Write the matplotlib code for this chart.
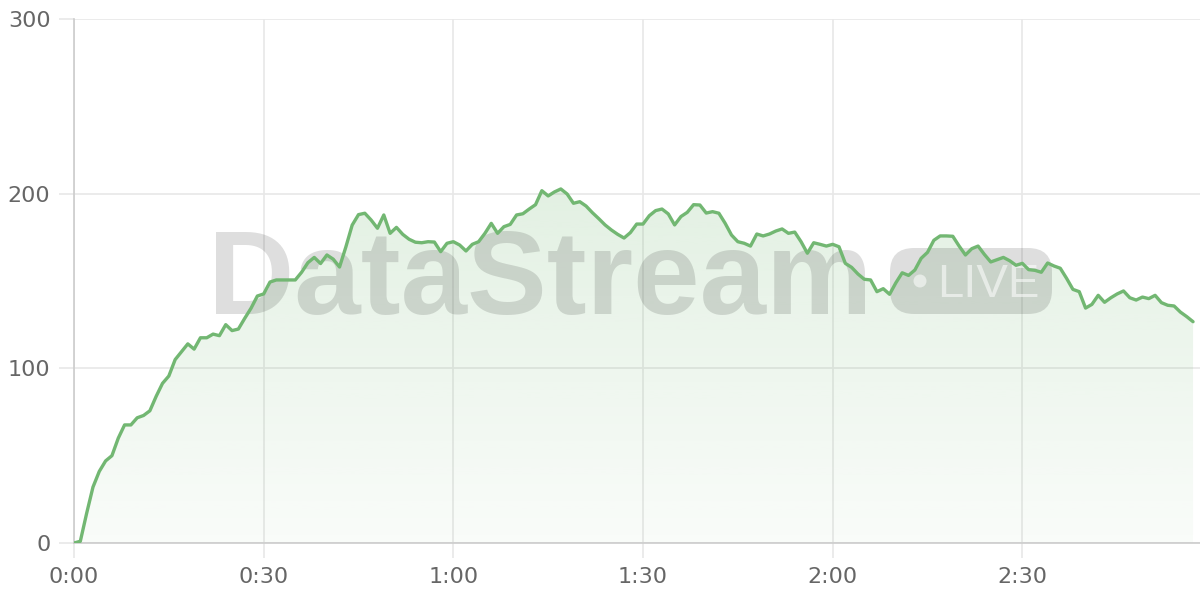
import numpy as np
import matplotlib.pyplot as plt
from matplotlib.patches import FancyBboxPatch, Circle
from matplotlib.ticker import FixedLocator

# viewers per second
seconds = list(range(178))
viewers = [
    0, 1, 17, 32, 41, 47, 50, 60, 67.6, 67.6,
    71.7, 73, 75.7, 84, 91.4, 95.6, 105, 109.5, 114, 111,
    117.5, 117.5, 119.6, 118.7, 125, 121.6, 122.5, 128.6, 134.4, 141.4,
    142.6, 149.4, 150.6, 150.6, 150.6, 150.6, 155, 160.5, 163.5, 160,
    164.9, 162.5, 158, 169.5, 182, 188, 188.8, 184.9, 180.2, 187.8,
    177.3, 180.7, 176.7, 173.9, 172.2, 171.9, 172.5, 172.3, 166.8, 171.6,
    172.5, 170.6, 167.2, 171, 172.5, 177.3, 183, 177.3, 181.1, 182.4,
    187.8, 188.5, 191.2, 193.7, 201.7, 198.7, 201, 202.7, 199.8, 194.5,
    195.4, 192.9, 189.1, 185.7, 182.1, 179.2, 176.7, 174.6, 177.7, 182.6,
    182.6, 187.4, 190.3, 191.2, 188.4, 182.1, 186.9, 189.3, 193.7, 193.5,
    188.9, 189.7, 188.8, 183, 176.3, 172.5, 171.6, 170, 176.9, 175.8,
    176.9, 178.6, 179.8, 177.3, 178, 172.5, 165.9, 171.9, 171, 170,
    171, 169.6, 160.1, 157.8, 154, 151, 150.6, 143.9, 145.6, 142.4,
    149, 154.7, 153.2, 156.3, 163, 166.4, 173.3, 175.8, 175.8, 175.6,
    170, 164.9, 168.5, 170, 165.2, 160.9, 162.2, 163.5, 161.6, 159,
    160.1, 156.5, 156.1, 155, 160.3, 158.6, 157.3, 151.5, 145.2, 143.9,
    134.5, 136.6, 141.8, 137.8, 140.4, 142.6, 144.3, 140.4, 139.1, 140.8,
    139.9, 141.8, 137.6, 136.1, 135.7, 132.2, 129.6, 126.7,
]
x_ticks = [0, 30, 60, 90, 120, 150]
x_labels = ["0:00", "0:30", "1:00", "1:30", "2:00", "2:30"]
y_ticks = [0, 100, 200, 300]

line_color = "#72b772"
x_max = 178.1

fig = plt.figure(figsize=(12, 6), dpi=100)
ax = fig.add_axes([74 / 1200, 57 / 600, 1 - 74 / 1200, (543 - 19) / 600])

# gradient fill under the line
poly = ax.fill_between(seconds, viewers, 0, color="none", linewidth=0)
grad = np.linspace(0.04, 0.28, 256).reshape(-1, 1)
rgba = np.zeros((256, 1, 4))
rgba[..., 0] = 0x72 / 255
rgba[..., 1] = 0xb7 / 255
rgba[..., 2] = 0x72 / 255
rgba[..., 3] = grad
img = ax.imshow(rgba, extent=[0, x_max, 0, 300], origin="lower",
                aspect="auto", zorder=1)
path = poly.get_paths()[0]
img.set_clip_path(path, transform=ax.transData)

ax.plot(seconds, viewers, color=line_color, linewidth=2.4,
        solid_joinstyle="round", solid_capstyle="round", zorder=6)

ax.set_xlim(0, x_max)
ax.set_ylim(0, 300)
ax.xaxis.set_major_locator(FixedLocator(x_ticks))
ax.set_xticklabels(x_labels)
ax.yaxis.set_major_locator(FixedLocator(y_ticks))
ax.grid(True, color="#e8e8e8", linewidth=1.2, zorder=0)
ax.set_axisbelow(True)
ax.tick_params(length=11, width=1.2, color="#e8e8e8", labelcolor="#666666",
               labelsize=16, pad=6)
for side in ["top", "right"]:
    ax.spines[side].set_visible(False)
for side in ["left", "bottom"]:
    ax.spines[side].set_color("#cccccc")
    ax.spines[side].set_linewidth(1.2)
    ax.spines[side].set_zorder(2)

# watermark, drawn inside the axes so the line stays on top
inch = fig.dpi_scale_trans
wm = ax.text(2.08, (600 - 314) / 100, "DataStream", transform=inch,
             fontsize=86, fontweight="bold", family="Liberation Sans",
             color="black", alpha=0.13, ha="left", va="baseline", zorder=3)
wm.set_clip_on(False)
pill = FancyBboxPatch((8.9, (600 - 314) / 100), 1.62, 0.66,
                      boxstyle="round,pad=0,rounding_size=0.24",
                      transform=inch, facecolor="black", alpha=0.13,
                      edgecolor="none", zorder=3, clip_on=False)
ax.add_artist(pill)
dot = Circle((9.2, (600 - 281) / 100), 0.065, transform=inch,
             facecolor="white", alpha=0.55, edgecolor="none", zorder=4,
             clip_on=False)
ax.add_artist(dot)
ax.text(9.37, (600 - 297) / 100, "LIVE", transform=inch, fontsize=34,
        family="Liberation Sans", color="white", alpha=0.55,
        ha="left", va="baseline", zorder=4, clip_on=False)

fig.savefig("out.png", dpi=100)
